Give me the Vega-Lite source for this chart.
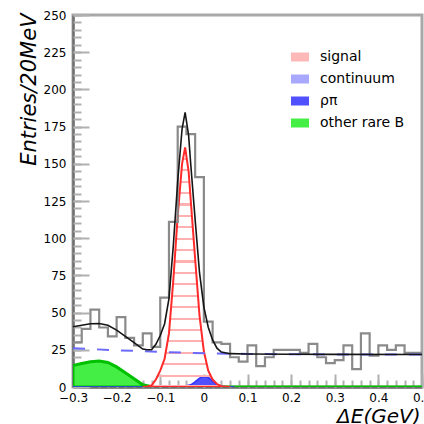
{
  "$schema": "https://vega.github.io/schema/vega-lite/v6.json",
  "width": 349,
  "height": 372,
  "autosize": {"type": "none"},
  "padding": {"left": 73, "top": 15, "right": 2, "bottom": 37},
  "background": "white",
  "config": {
    "view": {"stroke": "#a8a8a8", "strokeWidth": 3},
    "axis": {"grid": false, "labelFont": "DejaVu Sans", "labelFontSize": 12, "labelColor": "#000", "titleFont": "DejaVu Sans", "titleFontStyle": "italic", "titleFontWeight": "normal", "titleFontSize": 20, "titleColor": "#000", "domainColor": "#707070", "domainWidth": 2.5, "tickColor": "#b0b0b0", "tickWidth": 2, "labelOverlap": false, "labelBound": false, "labelFlush": false}
  },
  "resolve": {"axis": {"x": "independent", "y": "independent"}},
  "datasets": {
    "hist": [
      {"lo": -0.30, "n": 30}, {"lo": -0.28, "n": 39}, {"lo": -0.26, "n": 52}, {"lo": -0.24, "n": 40},
      {"lo": -0.22, "n": 34}, {"lo": -0.20, "n": 47}, {"lo": -0.18, "n": 33}, {"lo": -0.16, "n": 28},
      {"lo": -0.14, "n": 36}, {"lo": -0.12, "n": 27}, {"lo": -0.10, "n": 60}, {"lo": -0.08, "n": 111},
      {"lo": -0.06, "n": 175}, {"lo": -0.04, "n": 170}, {"lo": -0.02, "n": 141}, {"lo": 0.00, "n": 44},
      {"lo": 0.02, "n": 30}, {"lo": 0.04, "n": 29}, {"lo": 0.06, "n": 20}, {"lo": 0.08, "n": 17},
      {"lo": 0.10, "n": 28}, {"lo": 0.12, "n": 14}, {"lo": 0.14, "n": 20}, {"lo": 0.16, "n": 25},
      {"lo": 0.18, "n": 25}, {"lo": 0.20, "n": 25}, {"lo": 0.22, "n": 23}, {"lo": 0.24, "n": 29},
      {"lo": 0.26, "n": 20}, {"lo": 0.28, "n": 16}, {"lo": 0.30, "n": 18}, {"lo": 0.32, "n": 28},
      {"lo": 0.34, "n": 12}, {"lo": 0.36, "n": 36}, {"lo": 0.38, "n": 21}, {"lo": 0.40, "n": 28},
      {"lo": 0.42, "n": 25}, {"lo": 0.44, "n": 28}, {"lo": 0.46, "n": 23}, {"lo": 0.48, "n": 23},
      {"lo": 0.50, "n": 23}
    ],
    "comps": [
      {"comp": "other rare B", "dE": -0.30, "y": 14.5}, {"comp": "other rare B", "dE": -0.28, "y": 15.8},
      {"comp": "other rare B", "dE": -0.26, "y": 17}, {"comp": "other rare B", "dE": -0.24, "y": 17.5},
      {"comp": "other rare B", "dE": -0.22, "y": 16.5}, {"comp": "other rare B", "dE": -0.20, "y": 13.5},
      {"comp": "other rare B", "dE": -0.18, "y": 9.5}, {"comp": "other rare B", "dE": -0.16, "y": 5.5},
      {"comp": "other rare B", "dE": -0.14, "y": 1.5}, {"comp": "other rare B", "dE": -0.12, "y": 0.2},
      {"comp": "other rare B", "dE": -0.11, "y": 0}, {"comp": "other rare B", "dE": 0.50, "y": 0},

      {"comp": "ρπ", "dE": -0.30, "y": 0}, {"comp": "ρπ", "dE": -0.06, "y": 0},
      {"comp": "ρπ", "dE": -0.045, "y": 0.5}, {"comp": "ρπ", "dE": -0.03, "y": 1.5},
      {"comp": "ρπ", "dE": -0.02, "y": 3.5}, {"comp": "ρπ", "dE": -0.01, "y": 6},
      {"comp": "ρπ", "dE": 0.00, "y": 7}, {"comp": "ρπ", "dE": 0.01, "y": 6.5},
      {"comp": "ρπ", "dE": 0.02, "y": 4}, {"comp": "ρπ", "dE": 0.03, "y": 1.5},
      {"comp": "ρπ", "dE": 0.04, "y": 0.5}, {"comp": "ρπ", "dE": 0.05, "y": 0},
      {"comp": "ρπ", "dE": 0.07, "y": 0},

      {"comp": "signal", "dE": -0.14, "y": 0}, {"comp": "signal", "dE": -0.13, "y": 0.3},
      {"comp": "signal", "dE": -0.12, "y": 1}, {"comp": "signal", "dE": -0.11, "y": 5},
      {"comp": "signal", "dE": -0.10, "y": 11}, {"comp": "signal", "dE": -0.09, "y": 19},
      {"comp": "signal", "dE": -0.08, "y": 36}, {"comp": "signal", "dE": -0.07, "y": 72},
      {"comp": "signal", "dE": -0.06, "y": 115}, {"comp": "signal", "dE": -0.05, "y": 150},
      {"comp": "signal", "dE": -0.043, "y": 161}, {"comp": "signal", "dE": -0.035, "y": 145},
      {"comp": "signal", "dE": -0.03, "y": 125}, {"comp": "signal", "dE": -0.02, "y": 86},
      {"comp": "signal", "dE": -0.01, "y": 48}, {"comp": "signal", "dE": 0.00, "y": 24},
      {"comp": "signal", "dE": 0.01, "y": 11}, {"comp": "signal", "dE": 0.02, "y": 5},
      {"comp": "signal", "dE": 0.03, "y": 2}, {"comp": "signal", "dE": 0.04, "y": 0.5},
      {"comp": "signal", "dE": 0.06, "y": 0},

      {"comp": "continuum", "dE": -0.30, "y": 26}, {"comp": "continuum", "dE": -0.20, "y": 24.7},
      {"comp": "continuum", "dE": -0.10, "y": 23.6}, {"comp": "continuum", "dE": 0.00, "y": 22.7},
      {"comp": "continuum", "dE": 0.10, "y": 22.2}, {"comp": "continuum", "dE": 0.20, "y": 22.0},
      {"comp": "continuum", "dE": 0.30, "y": 21.9}, {"comp": "continuum", "dE": 0.50, "y": 21.8}
    ],
    "fit": [
      {"dE": -0.30, "total": 40.5}, {"dE": -0.28, "total": 41.5}, {"dE": -0.26, "total": 42.5},
      {"dE": -0.24, "total": 42.7}, {"dE": -0.22, "total": 41.5}, {"dE": -0.20, "total": 38.2},
      {"dE": -0.18, "total": 34.0}, {"dE": -0.16, "total": 29.8}, {"dE": -0.14, "total": 25.5},
      {"dE": -0.13, "total": 25.0}, {"dE": -0.12, "total": 25.0}, {"dE": -0.11, "total": 28.7},
      {"dE": -0.10, "total": 34.6}, {"dE": -0.09, "total": 42.5}, {"dE": -0.08, "total": 59.4},
      {"dE": -0.07, "total": 95.3}, {"dE": -0.06, "total": 138.2}, {"dE": -0.05, "total": 173.4},
      {"dE": -0.043, "total": 184.6}, {"dE": -0.035, "total": 169.2}, {"dE": -0.03, "total": 149.4},
      {"dE": -0.02, "total": 112.3}, {"dE": -0.01, "total": 76.8}, {"dE": 0.00, "total": 53.7},
      {"dE": 0.01, "total": 40.2}, {"dE": 0.02, "total": 31.6}, {"dE": 0.03, "total": 26.1},
      {"dE": 0.04, "total": 23.5}, {"dE": 0.06, "total": 22.4}, {"dE": 0.10, "total": 22.2},
      {"dE": 0.20, "total": 22.0}, {"dE": 0.30, "total": 21.9}, {"dE": 0.50, "total": 21.8}
    ]
  },
  "layer": [
    {
      "data": {"name": "comps"},
      "transform": [{"filter": "datum.comp === 'other rare B'"}],
      "mark": {"type": "area", "stroke": "#00c000", "strokeWidth": 3, "fillOpacity": 1, "clip": true},
      "encoding": {
        "x": {"field": "dE", "type": "quantitative", "scale": {"domain": [-0.3, 0.5], "nice": false, "zero": false},
          "axis": {
            "orient": "bottom",
            "title": "ΔE(GeV)", "titleAnchor": "end", "titleAlign": "right", "titleX": 347, "titleY": 35, "titleBaseline": "alphabetic",
            "values": [-0.3, -0.2, -0.1, 0, 0.1, 0.2, 0.3, 0.4, 0.5],
            "ticks": false,
            "labelExpr": "datum.value === 0 ? '0' : format(datum.value, '.1f')",
            "labelPadding": 5
          }},
        "y": {"field": "y", "type": "quantitative", "scale": {"domain": [0, 250], "nice": false},
          "axis": {
            "orient": "left",
            "title": "Entries/20MeV", "titleAnchor": "end", "titleAlign": "right", "titleAngle": -90, "titleX": -55, "titleY": -2, "titleBaseline": "top", "titleFontSize": 21,
            "values": [0, 25, 50, 75, 100, 125, 150, 175, 200, 225, 250],
            "ticks": false,
            "labelPadding": 7
          }},
        "fill": {"field": "comp", "type": "nominal",
          "scale": {"domain": ["signal", "continuum", "ρπ", "other rare B"], "range": ["#ffb8b8", "#a8a8ff", "#5050ff", "#44ee44"]},
          "legend": {
            "orient": "none", "legendX": 218, "legendY": 33, "title": null, "padding": 0,
            "symbolType": "M-1,-0.5H1V0.5H-1Z", "symbolSize": 324, "symbolStrokeWidth": 0, "symbolOpacity": 1,
            "labelFont": "DejaVu Sans", "labelFontSize": 14, "labelColor": "#000", "labelOffset": 11, "rowPadding": 6,
            "encode": {"symbols": {"update": {
              "shape": {"signal": "datum.value === 'continuum' ? 'M-1,-0.1H1V0.1H-1Z' : 'M-1,-0.5H1V0.5H-1Z'"}
            }}}
          }}
      }
    },
    {
      "data": {"name": "comps"},
      "transform": [{"filter": "datum.comp === 'ρπ'"}],
      "mark": {"type": "area", "stroke": "#3030ff", "strokeWidth": 1.5, "fillOpacity": 1, "clip": true},
      "encoding": {
        "x": {"field": "dE", "type": "quantitative",
          "axis": {
            "orient": "bottom", "title": null, "labels": false, "domain": false, "offset": -7,
            "values": [-0.3, -0.28, -0.26, -0.24, -0.22, -0.2, -0.18, -0.16, -0.14, -0.12, -0.1, -0.08, -0.06, -0.04, -0.02, 0, 0.02, 0.04, 0.06, 0.08, 0.1, 0.12, 0.14, 0.16, 0.18, 0.2, 0.22, 0.24, 0.26, 0.28, 0.3, 0.32, 0.34, 0.36, 0.38, 0.4, 0.42, 0.44, 0.46, 0.48, 0.5],
            "tickSize": 7
          }},
        "y": {"field": "y", "type": "quantitative",
          "axis": {
            "orient": "left", "title": null, "labels": false, "domain": false, "offset": -8,
            "values": [0, 5, 10, 15, 20, 25, 30, 35, 40, 45, 50, 55, 60, 65, 70, 75, 80, 85, 90, 95, 100, 105, 110, 115, 120, 125, 130, 135, 140, 145, 150, 155, 160, 165, 170, 175, 180, 185, 190, 195, 200, 205, 210, 215, 220, 225, 230, 235, 240, 245, 250],
            "tickSize": 8
          }},
        "fill": {"field": "comp", "type": "nominal"}
      }
    },
    {
      "data": {"name": "comps"},
      "transform": [{"filter": "datum.comp === 'signal'"}],
      "mark": {"type": "area", "stroke": "#ff2a2a", "strokeWidth": 2, "clip": true,
        "fill": {"gradient": "linear", "x1": 0, "y1": 0, "x2": 0, "y2": 1, "stops": [
          {"offset": 0, "color": "rgba(255,176,176,0)"},
          {"offset": 0.0435, "color": "rgba(255,176,176,0)"}, {"offset": 0.0435, "color": "#ffb0b0"}, {"offset": 0.0525, "color": "#ffb0b0"}, {"offset": 0.0525, "color": "rgba(255,176,176,0)"},
          {"offset": 0.0911, "color": "rgba(255,176,176,0)"}, {"offset": 0.0911, "color": "#ffb0b0"}, {"offset": 0.1001, "color": "#ffb0b0"}, {"offset": 0.1001, "color": "rgba(255,176,176,0)"},
          {"offset": 0.1387, "color": "rgba(255,176,176,0)"}, {"offset": 0.1387, "color": "#ffb0b0"}, {"offset": 0.1477, "color": "#ffb0b0"}, {"offset": 0.1477, "color": "rgba(255,176,176,0)"},
          {"offset": 0.1863, "color": "rgba(255,176,176,0)"}, {"offset": 0.1863, "color": "#ffb0b0"}, {"offset": 0.1953, "color": "#ffb0b0"}, {"offset": 0.1953, "color": "rgba(255,176,176,0)"},
          {"offset": 0.2339, "color": "rgba(255,176,176,0)"}, {"offset": 0.2339, "color": "#ffb0b0"}, {"offset": 0.2429, "color": "#ffb0b0"}, {"offset": 0.2429, "color": "rgba(255,176,176,0)"},
          {"offset": 0.2815, "color": "rgba(255,176,176,0)"}, {"offset": 0.2815, "color": "#ffb0b0"}, {"offset": 0.2905, "color": "#ffb0b0"}, {"offset": 0.2905, "color": "rgba(255,176,176,0)"},
          {"offset": 0.3291, "color": "rgba(255,176,176,0)"}, {"offset": 0.3291, "color": "#ffb0b0"}, {"offset": 0.3381, "color": "#ffb0b0"}, {"offset": 0.3381, "color": "rgba(255,176,176,0)"},
          {"offset": 0.3767, "color": "rgba(255,176,176,0)"}, {"offset": 0.3767, "color": "#ffb0b0"}, {"offset": 0.3857, "color": "#ffb0b0"}, {"offset": 0.3857, "color": "rgba(255,176,176,0)"},
          {"offset": 0.4243, "color": "rgba(255,176,176,0)"}, {"offset": 0.4243, "color": "#ffb0b0"}, {"offset": 0.4333, "color": "#ffb0b0"}, {"offset": 0.4333, "color": "rgba(255,176,176,0)"},
          {"offset": 0.4719, "color": "rgba(255,176,176,0)"}, {"offset": 0.4719, "color": "#ffb0b0"}, {"offset": 0.4809, "color": "#ffb0b0"}, {"offset": 0.4809, "color": "rgba(255,176,176,0)"},
          {"offset": 0.5195, "color": "rgba(255,176,176,0)"}, {"offset": 0.5195, "color": "#ffb0b0"}, {"offset": 0.5285, "color": "#ffb0b0"}, {"offset": 0.5285, "color": "rgba(255,176,176,0)"},
          {"offset": 0.5671, "color": "rgba(255,176,176,0)"}, {"offset": 0.5671, "color": "#ffb0b0"}, {"offset": 0.5761, "color": "#ffb0b0"}, {"offset": 0.5761, "color": "rgba(255,176,176,0)"},
          {"offset": 0.6147, "color": "rgba(255,176,176,0)"}, {"offset": 0.6147, "color": "#ffb0b0"}, {"offset": 0.6237, "color": "#ffb0b0"}, {"offset": 0.6237, "color": "rgba(255,176,176,0)"},
          {"offset": 0.6623, "color": "rgba(255,176,176,0)"}, {"offset": 0.6623, "color": "#ffb0b0"}, {"offset": 0.6713, "color": "#ffb0b0"}, {"offset": 0.6713, "color": "rgba(255,176,176,0)"},
          {"offset": 0.7099, "color": "rgba(255,176,176,0)"}, {"offset": 0.7099, "color": "#ffb0b0"}, {"offset": 0.7189, "color": "#ffb0b0"}, {"offset": 0.7189, "color": "rgba(255,176,176,0)"},
          {"offset": 0.7575, "color": "rgba(255,176,176,0)"}, {"offset": 0.7575, "color": "#ffb0b0"}, {"offset": 0.7665, "color": "#ffb0b0"}, {"offset": 0.7665, "color": "rgba(255,176,176,0)"},
          {"offset": 0.8051, "color": "rgba(255,176,176,0)"}, {"offset": 0.8051, "color": "#ffb0b0"}, {"offset": 0.8141, "color": "#ffb0b0"}, {"offset": 0.8141, "color": "rgba(255,176,176,0)"},
          {"offset": 0.8527, "color": "rgba(255,176,176,0)"}, {"offset": 0.8527, "color": "#ffb0b0"}, {"offset": 0.8617, "color": "#ffb0b0"}, {"offset": 0.8617, "color": "rgba(255,176,176,0)"},
          {"offset": 0.9003, "color": "rgba(255,176,176,0)"}, {"offset": 0.9003, "color": "#ffb0b0"}, {"offset": 0.9093, "color": "#ffb0b0"}, {"offset": 0.9093, "color": "rgba(255,176,176,0)"},
          {"offset": 0.9479, "color": "rgba(255,176,176,0)"}, {"offset": 0.9479, "color": "#ffb0b0"}, {"offset": 0.9569, "color": "#ffb0b0"}, {"offset": 0.9569, "color": "rgba(255,176,176,0)"},
          {"offset": 0.991, "color": "rgba(255,176,176,0)"}, {"offset": 0.991, "color": "#ffb0b0"}, {"offset": 1, "color": "#ffb0b0"}
        ]}},
      "encoding": {
        "x": {"field": "dE", "type": "quantitative",
          "axis": {
            "orient": "bottom", "title": null, "labels": false, "domain": false, "offset": -13,
            "values": [-0.3, -0.2, -0.1, 0, 0.1, 0.2, 0.3, 0.4, 0.5],
            "tickSize": 13
          }},
        "y": {"field": "y", "type": "quantitative",
          "axis": {
            "orient": "left", "title": null, "labels": false, "domain": false, "offset": -16,
            "values": [0, 25, 50, 75, 100, 125, 150, 175, 200, 225, 250],
            "tickSize": 16
          }}
      }
    },
    {
      "data": {"name": "hist"},
      "mark": {"type": "line", "interpolate": "step-after", "color": "#8a8a8a", "strokeWidth": 2.2, "clip": true},
      "encoding": {
        "x": {"field": "lo", "type": "quantitative", "axis": null},
        "y": {"field": "n", "type": "quantitative", "axis": null}
      }
    },
    {
      "data": {"name": "comps"},
      "transform": [{"filter": "datum.comp === 'continuum'"}],
      "mark": {"type": "line", "color": "#6a6aff", "strokeWidth": 2, "strokeDash": [12, 12], "clip": true},
      "encoding": {
        "x": {"field": "dE", "type": "quantitative", "axis": null},
        "y": {"field": "y", "type": "quantitative", "axis": null}
      }
    },
    {
      "data": {"name": "fit"},
      "mark": {"type": "line", "color": "#151515", "strokeWidth": 1.6, "clip": true},
      "encoding": {
        "x": {"field": "dE", "type": "quantitative", "axis": null},
        "y": {"field": "total", "type": "quantitative", "axis": null}
      }
    }
  ]
}
